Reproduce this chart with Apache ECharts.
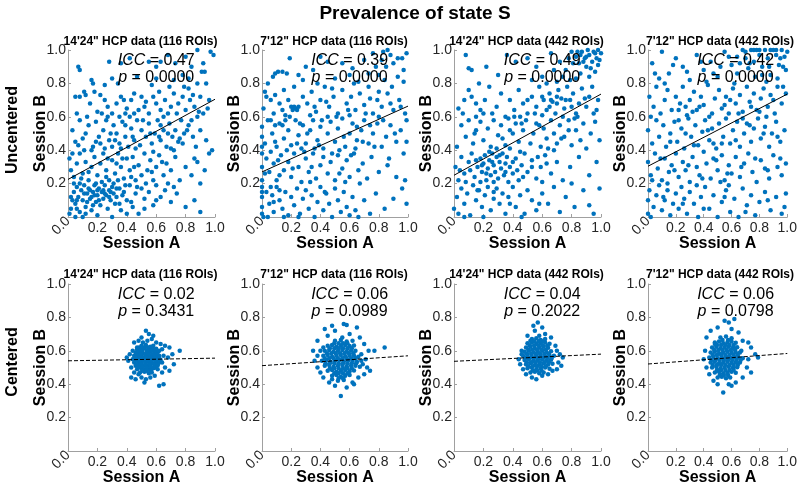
<!DOCTYPE html>
<html>
<head>
<meta charset="utf-8">
<script src="https://cdn.jsdelivr.net/npm/echarts@6/dist/echarts.min.js"></script>
<style>
  html, body { margin: 0; padding: 0; background: #fff; }
  #chart { width: 800px; height: 487px; }
</style>
</head>
<body>
<div id="chart"></div>
<script>
// panel titles, stats
var panelTitles = ["14'24\" HCP data (116 ROIs)", "7'12\" HCP data (116 ROIs)", "14'24\" HCP data (442 ROIs)", "7'12\" HCP data (442 ROIs)"];
var iccTop = ["0.47", "0.39", "0.49", "0.42"];
var pTop = ["0.0000", "0.0000", "0.0000", "0.0000"];
var iccBottom = ["0.02", "0.06", "0.04", "0.06"];
var pBottom = ["0.3431", "0.0989", "0.2022", "0.0798"];

// fitted line values at x=0 and x=1
var fitTop = [[0.225, 0.705], [0.27, 0.664], [0.25, 0.736], [0.304, 0.736]];
var fitBottom = [[0.54, 0.556], [0.511, 0.57], [0.537, 0.58], [0.521, 0.584]];

// uncentered, 14'24" 116 ROIs
var ptsU1 = [
  [0.07,0.9],[0.08,0.88],[0.28,0.93],[0.36,0.92],[0.42,0.95],[0.55,0.93],[0.6,0.9],[0.68,0.97],[0.73,0.92],[0.8,0.96],[0.88,1.0],[0.97,0.99],[0.84,0.9],[0.91,0.87],[0.93,0.87],[0.78,0.85],[0.16,0.82],[0.17,0.8],[0.3,0.83],[0.34,0.8],[0.47,0.84],[0.6,0.83],[0.72,0.82],[0.82,0.83],[0.88,0.8],[0.94,0.8],[0.25,0.79],
  [0.05,0.72],[0.08,0.72],[0.12,0.73],[0.11,0.75],[0.18,0.75],[0.22,0.73],[0.25,0.7],[0.15,0.68],[0.06,0.62],[0.13,0.6],[0.2,0.63],[0.23,0.62],[0.27,0.66],[0.3,0.62],[0.33,0.68],[0.36,0.72],[0.38,0.7],[0.4,0.65],[0.43,0.7],[0.45,0.62],[0.5,0.72],[0.52,0.66],[0.55,0.62],[0.58,0.72],[0.6,0.68],[0.63,0.64],[0.66,0.7],[0.68,0.62],[0.7,0.66],[0.72,0.74],[0.75,0.68],[0.78,0.72],[0.8,0.64],[0.83,0.7],[0.86,0.66],[0.9,0.72],[0.92,0.62],[0.96,0.7],[0.35,0.6],[0.42,0.6],[0.48,0.64],[0.62,0.75],[0.82,0.77],[0.88,0.6],
  [0.03,0.52],[0.05,0.45],[0.08,0.58],[0.1,0.47],[0.12,0.5],[0.14,0.55],[0.17,0.42],[0.19,0.57],[0.22,0.44],[0.24,0.52],[0.26,0.58],[0.28,0.46],[0.3,0.42],[0.31,0.55],[0.33,0.5],[0.35,0.44],[0.37,0.57],[0.39,0.48],[0.41,0.42],[0.43,0.53],[0.45,0.46],[0.47,0.58],[0.49,0.43],[0.5,0.52],[0.53,0.48],[0.55,0.56],[0.57,0.44],[0.59,0.5],[0.61,0.58],[0.63,0.46],[0.65,0.52],[0.67,0.42],[0.69,0.56],[0.71,0.48],[0.73,0.52],[0.75,0.45],[0.77,0.58],[0.79,0.5],[0.82,0.55],[0.85,0.48],[0.87,0.42],[0.9,0.52],[0.94,0.46],[0.98,0.4],[0.36,0.41],[0.46,0.41],[0.21,0.48],[0.16,0.4],[0.29,0.5],[0.63,0.55],[0.7,0.41],[0.78,0.44],
  [0.01,0.35],[0.02,0.28],[0.04,0.24],[0.06,0.32],[0.08,0.38],[0.1,0.26],[0.12,0.33],[0.14,0.22],[0.16,0.3],[0.18,0.36],[0.2,0.25],[0.22,0.32],[0.24,0.38],[0.26,0.28],[0.28,0.22],[0.3,0.34],[0.32,0.26],[0.34,0.38],[0.36,0.3],[0.38,0.23],[0.4,0.35],[0.42,0.28],[0.44,0.36],[0.46,0.22],[0.48,0.31],[0.5,0.25],[0.52,0.38],[0.54,0.28],[0.56,0.34],[0.58,0.22],[0.6,0.3],[0.62,0.37],[0.65,0.25],[0.67,0.32],[0.7,0.28],[0.73,0.36],[0.76,0.22],[0.8,0.3],[0.84,0.25],[0.88,0.33],[0.93,0.28],[0.96,0.38],[0.27,0.35],[0.33,0.32],[0.43,0.24],[0.58,0.39],[0.68,0.2],
  [0.01,0.02],[0.02,0.05],[0.03,0.1],[0.04,0.15],[0.05,0.08],[0.06,0.18],[0.07,0.12],[0.08,0.03],[0.09,0.16],[0.1,0.1],[0.11,0.19],[0.12,0.06],[0.13,0.14],[0.14,0.17],[0.15,0.11],[0.16,0.04],[0.17,0.15],[0.18,0.19],[0.19,0.09],[0.2,0.13],[0.21,0.17],[0.22,0.07],[0.23,0.15],[0.24,0.11],[0.25,0.19],[0.26,0.13],[0.27,0.05],[0.28,0.16],[0.29,0.1],[0.3,0.18],[0.31,0.14],[0.32,0.08],[0.33,0.12],[0.35,0.17],[0.36,0.04],[0.38,0.15],[0.4,0.1],[0.42,0.19],[0.44,0.06],[0.46,0.14],[0.48,0.02],[0.5,0.17],[0.52,0.11],[0.55,0.15],[0.58,0.07],[0.6,0.19],[0.63,0.12],[0.66,0.16],[0.7,0.09],[0.74,0.14],[0.8,0.06],[0.86,0.1],[0.9,0.03],[0.08,0.2],[0.13,0.09],[0.18,0.13],[0.21,0.1],[0.15,0.16],[0.24,0.16],[0.28,0.12],[0.05,0.0],[0.1,0.0],[0.2,0.01],[0.3,0.0],[0.12,0.02],[0.02,0.12],[0.06,0.05],[0.17,0.07],[0.35,0.08],[0.4,0.02],
  [0.04,0.2],[0.09,0.23],[0.14,0.27],[0.19,0.2],[0.23,0.21],[0.26,0.24],[0.31,0.2],[0.34,0.22],[0.39,0.19],[0.11,0.14],[0.16,0.12],[0.2,0.16],[0.25,0.14],[0.29,0.15],[0.33,0.17],[0.37,0.13],[0.06,0.1],[0.43,0.09],[0.47,0.18],[0.53,0.2],[0.57,0.27],[0.64,0.33],[0.72,0.4],[0.76,0.47],[0.81,0.52],[0.84,0.58],[0.89,0.63],[0.95,0.65],[0.68,0.5],[0.62,0.48],[0.56,0.5],[0.51,0.58],[0.44,0.48],[0.39,0.55],[0.32,0.46],[0.25,0.41],[0.19,0.45],[0.11,0.4],[0.07,0.43],[0.03,0.38],[0.27,0.6],[0.39,0.62],[0.53,0.69],[0.65,0.6],[0.74,0.62],[0.85,0.73],[0.69,0.78],[0.45,0.74],[0.57,0.79],[0.92,0.92],[0.63,0.93],[0.79,0.78],[0.99,0.97],[0.86,0.35],[0.9,0.2],[0.6,0.1],[0.72,0.18],[0.52,0.05],[0.45,0.3],[0.37,0.35]
];

// uncentered, 7'12" 116 ROIs
var ptsU2 = [
  [0.19,0.95],[0.075,0.84],[0.09,0.86],[0.11,0.87],[0.14,0.87],[0.17,0.86],[0.3,0.9],[0.35,0.88],[0.4,0.96],[0.45,0.93],[0.55,0.92],[0.62,0.89],[0.7,0.94],[0.78,0.9],[0.83,0.99],[0.86,1.0],[0.88,0.97],[0.9,0.92],[0.96,0.95],[0.99,0.98],[0.8,0.85],[0.84,0.82],[0.93,0.84],[0.97,0.81],[0.28,0.82],[0.5,0.83],[0.66,0.81],[0.73,0.86],[0.04,0.8],[0.25,0.85],
  [0.02,0.75],[0.03,0.72],[0.06,0.7],[0.09,0.73],[0.12,0.68],[0.15,0.76],[0.18,0.7],[0.2,0.66],[0.21,0.64],[0.22,0.66],[0.23,0.65],[0.24,0.64],[0.25,0.66],[0.28,0.72],[0.31,0.68],[0.34,0.75],[0.37,0.63],[0.4,0.7],[0.43,0.78],[0.46,0.66],[0.49,0.72],[0.52,0.62],[0.55,0.76],[0.58,0.68],[0.61,0.72],[0.64,0.64],[0.67,0.74],[0.7,0.67],[0.73,0.78],[0.76,0.62],[0.79,0.7],[0.82,0.66],[0.86,0.74],[0.9,0.64],[0.94,0.7],[0.98,0.62],[0.08,0.62],[0.16,0.61],[0.33,0.61],[0.45,0.6],[0.6,0.61],[0.74,0.71],[0.88,0.68],[0.14,0.64],[0.48,0.77],
  [0.0,0.54],[0.0,0.48],[0.02,0.44],[0.04,0.58],[0.07,0.5],[0.1,0.42],[0.12,0.56],[0.15,0.47],[0.18,0.52],[0.2,0.43],[0.23,0.58],[0.25,0.49],[0.28,0.55],[0.3,0.44],[0.33,0.52],[0.35,0.58],[0.38,0.46],[0.4,0.54],[0.42,0.41],[0.45,0.5],[0.47,0.57],[0.5,0.45],[0.52,0.53],[0.55,0.59],[0.57,0.42],[0.6,0.5],[0.62,0.56],[0.65,0.46],[0.68,0.52],[0.7,0.58],[0.73,0.44],[0.76,0.5],[0.79,0.56],[0.82,0.42],[0.85,0.48],[0.88,0.55],[0.92,0.45],[0.95,0.52],[0.99,0.58],[0.36,0.41],[0.53,0.4],[0.64,0.41],[0.8,0.6],[0.27,0.41],[0.09,0.55],[0.16,0.58],
  [0.0,0.38],[0.0,0.3],[0.0,0.22],[0.03,0.35],[0.05,0.27],[0.08,0.32],[0.1,0.22],[0.13,0.37],[0.15,0.28],[0.18,0.33],[0.2,0.24],[0.22,0.38],[0.25,0.3],[0.27,0.21],[0.3,0.35],[0.32,0.27],[0.35,0.38],[0.37,0.23],[0.4,0.31],[0.42,0.36],[0.45,0.26],[0.47,0.33],[0.5,0.22],[0.52,0.37],[0.55,0.29],[0.58,0.34],[0.6,0.24],[0.63,0.38],[0.66,0.28],[0.69,0.32],[0.72,0.23],[0.75,0.36],[0.8,0.27],[0.86,0.31],[0.92,0.24],[0.97,0.38],[0.98,0.22],[0.12,0.25],[0.34,0.3],[0.57,0.21],[0.06,0.39],
  [0.0,0.18],[0.0,0.12],[0.0,0.06],[0.0,0.02],[0.01,0.0],[0.04,0.0],[0.03,0.15],[0.05,0.08],[0.07,0.13],[0.08,0.03],[0.1,0.18],[0.12,0.1],[0.14,0.05],[0.16,0.15],[0.18,0.01],[0.2,0.12],[0.22,0.07],[0.24,0.17],[0.26,0.02],[0.28,0.11],[0.3,0.16],[0.32,0.05],[0.34,0.13],[0.36,0.0],[0.38,0.09],[0.4,0.18],[0.42,0.04],[0.44,0.14],[0.46,0.08],[0.48,0.0],[0.5,0.17],[0.52,0.1],[0.54,0.03],[0.56,0.15],[0.58,0.06],[0.6,0.01],[0.62,0.12],[0.64,0.04],[0.66,0.0],[0.7,0.1],[0.74,0.02],[0.78,0.14],[0.84,0.05],[0.9,0.11],[0.96,0.17],[0.99,0.08],[0.08,0.09],[0.15,0.0],[0.25,0.0],[0.12,0.16],
  [0.01,0.65],[0.0,0.42],[0.0,0.15],[0.02,0.26],[0.06,0.18],[0.09,0.45],[0.11,0.34],[0.14,0.55],[0.17,0.4],[0.19,0.6],[0.21,0.29],[0.24,0.44],[0.26,0.56],[0.29,0.39],[0.31,0.5],[0.33,0.21],[0.36,0.66],[0.39,0.43],[0.41,0.58],[0.43,0.15],[0.44,0.69],[0.48,0.38],[0.51,0.6],[0.53,0.26],[0.56,0.48],[0.59,0.64],[0.61,0.37],[0.63,0.8],[0.65,0.54],[0.67,0.2],[0.69,0.45],[0.71,0.62],[0.74,0.55],[0.77,0.42],[0.8,0.75],[0.83,0.58],[0.85,0.9],[0.87,0.35],[0.89,0.78],[0.91,0.5],[0.93,0.95],[0.95,0.66],[0.97,0.88],[0.99,0.45],[0.82,0.94],[0.76,0.98],[0.6,0.85],[0.38,0.8],[0.22,0.78],[0.06,0.58]
];

// uncentered, 14'24" 442 ROIs
var ptsU3 = [
  [0.08,0.97],[0.1,0.89],[0.12,0.88],[0.17,0.8],[0.22,0.9],[0.3,0.85],[0.36,0.97],[0.42,0.93],[0.5,0.95],[0.56,0.9],[0.6,0.84],[0.66,0.98],[0.72,0.93],[0.76,0.88],[0.8,0.99],[0.83,0.96],[0.85,0.92],[0.87,0.99],[0.89,0.95],[0.9,0.9],[0.92,0.97],[0.94,0.93],[0.95,0.99],[0.97,0.95],[0.98,0.91],[1.0,0.98],[0.86,0.86],[0.92,0.84],[0.96,0.87],[0.79,0.82],[0.7,0.81],[0.53,0.82],[0.83,0.83],[0.99,0.94],
  [0.03,0.65],[0.06,0.62],[0.1,0.76],[0.12,0.72],[0.15,0.68],[0.18,0.64],[0.21,0.7],[0.24,0.78],[0.26,0.62],[0.29,0.66],[0.32,0.74],[0.35,0.6],[0.38,0.7],[0.41,0.64],[0.44,0.76],[0.47,0.68],[0.5,0.62],[0.53,0.72],[0.56,0.66],[0.58,0.78],[0.61,0.7],[0.63,0.64],[0.65,0.74],[0.67,0.69],[0.69,0.62],[0.71,0.76],[0.73,0.71],[0.75,0.65],[0.77,0.78],[0.79,0.7],[0.81,0.74],[0.83,0.62],[0.85,0.68],[0.87,0.77],[0.9,0.66],[0.92,0.72],[0.95,0.62],[0.98,0.7],[0.6,0.61],[0.7,0.68],[0.74,0.6],[0.66,0.7],[0.8,0.66],[0.45,0.6],[0.15,0.6],
  [0.02,0.42],[0.05,0.55],[0.08,0.48],[0.1,0.58],[0.13,0.44],[0.15,0.52],[0.18,0.57],[0.2,0.46],[0.23,0.53],[0.25,0.42],[0.27,0.58],[0.3,0.49],[0.32,0.55],[0.35,0.43],[0.37,0.59],[0.4,0.5],[0.42,0.56],[0.44,0.45],[0.47,0.52],[0.49,0.58],[0.52,0.44],[0.54,0.5],[0.56,0.56],[0.59,0.42],[0.61,0.53],[0.63,0.47],[0.66,0.58],[0.68,0.5],[0.7,0.44],[0.72,0.55],[0.75,0.48],[0.78,0.58],[0.8,0.43],[0.83,0.52],[0.86,0.46],[0.88,0.56],[0.9,0.41],[0.93,0.5],[0.96,0.57],[0.99,0.46],[0.38,0.41],[0.58,0.55],[0.82,0.59],[0.64,0.41],
  [0.01,0.3],[0.03,0.22],[0.05,0.36],[0.07,0.26],[0.1,0.33],[0.12,0.38],[0.14,0.24],[0.16,0.3],[0.18,0.35],[0.19,0.27],[0.2,0.32],[0.21,0.37],[0.22,0.22],[0.23,0.29],[0.24,0.34],[0.25,0.25],[0.26,0.38],[0.27,0.31],[0.28,0.27],[0.29,0.36],[0.3,0.23],[0.31,0.33],[0.32,0.29],[0.33,0.38],[0.34,0.25],[0.35,0.32],[0.36,0.36],[0.37,0.21],[0.38,0.3],[0.4,0.26],[0.42,0.35],[0.44,0.22],[0.46,0.31],[0.48,0.38],[0.5,0.27],[0.53,0.34],[0.56,0.23],[0.59,0.3],[0.62,0.37],[0.66,0.26],[0.7,0.33],[0.74,0.22],[0.79,0.3],[0.85,0.36],[0.92,0.25],[0.97,0.33],[0.18,0.21],[0.27,0.21],[0.45,0.39],[0.6,0.21],
  [0.0,0.05],[0.02,0.12],[0.03,0.02],[0.05,0.17],[0.07,0.08],[0.09,0.14],[0.11,0.01],[0.13,0.19],[0.15,0.1],[0.17,0.16],[0.19,0.06],[0.21,0.13],[0.23,0.18],[0.25,0.04],[0.27,0.11],[0.29,0.17],[0.31,0.08],[0.33,0.14],[0.35,0.02],[0.37,0.12],[0.4,0.18],[0.42,0.06],[0.45,0.13],[0.48,0.02],[0.5,0.16],[0.53,0.1],[0.56,0.04],[0.6,0.14],[0.64,0.08],[0.68,0.18],[0.72,0.03],[0.76,0.12],[0.82,0.06],[0.88,0.16],[0.92,0.07],[0.95,0.02],[0.99,0.17],[0.07,0.0],[0.2,0.0],[0.46,0.0],
  [0.84,0.99],[0.88,0.93],[0.91,1.0],[0.93,0.89],[0.96,0.98],[0.98,1.0],[0.9,0.96],[0.86,0.97],[0.81,0.92],[0.78,0.95],[0.74,0.84],[0.68,0.88],[0.63,0.8],[0.7,0.72],[0.76,0.7],[0.65,0.66],[0.6,0.72],[0.55,0.62],[0.5,0.7],[0.46,0.56],[0.41,0.6],[0.38,0.52],[0.33,0.47],[0.29,0.41],[0.24,0.39],[0.19,0.31],[0.15,0.34],[0.11,0.28],[0.08,0.21],[0.04,0.28],[0.22,0.26],[0.26,0.33],[0.31,0.37],[0.35,0.27],[0.4,0.33],[0.43,0.28],[0.47,0.24],[0.53,0.3],[0.57,0.36],[0.63,0.32],[0.68,0.4],[0.73,0.47],[0.78,0.52],[0.84,0.6],[0.89,0.71],[0.94,0.78],[0.97,0.64],[0.16,0.16],[0.27,0.15],[0.38,0.08],[0.58,0.08],[0.8,0.2],[0.14,0.5],[0.2,0.62],[0.07,0.7]
];

// uncentered, 7'12" 442 ROIs
var ptsU4 = [
  [0.03,0.92],[0.1,0.99],[0.15,0.86],[0.2,0.95],[0.25,0.9],[0.3,0.82],[0.35,0.97],[0.4,0.88],[0.45,0.93],[0.5,0.84],[0.55,0.99],[0.6,0.91],[0.64,0.86],[0.68,1.0],[0.7,0.95],[0.72,0.89],[0.74,1.0],[0.76,0.93],[0.78,1.0],[0.8,0.97],[0.82,0.9],[0.84,1.0],[0.86,0.95],[0.88,0.85],[0.9,1.0],[0.92,0.97],[0.94,0.91],[0.96,1.0],[0.98,0.96],[1.0,0.99],[0.99,0.88],[0.93,0.83],[0.85,0.81],[0.77,0.84],[0.62,0.8],[0.42,0.81],[0.08,0.83],[0.58,0.96],[0.66,0.92],
  [0.01,0.72],[0.04,0.66],[0.06,0.78],[0.09,0.62],[0.12,0.7],[0.14,0.76],[0.17,0.64],[0.2,0.72],[0.23,0.68],[0.25,0.78],[0.28,0.61],[0.3,0.7],[0.33,0.75],[0.35,0.64],[0.38,0.72],[0.4,0.67],[0.43,0.79],[0.46,0.62],[0.48,0.71],[0.51,0.76],[0.53,0.65],[0.56,0.72],[0.58,0.62],[0.61,0.77],[0.63,0.68],[0.66,0.73],[0.68,0.63],[0.71,0.78],[0.73,0.69],[0.76,0.74],[0.78,0.64],[0.81,0.71],[0.83,0.77],[0.86,0.66],[0.88,0.73],[0.91,0.62],[0.93,0.78],[0.96,0.68],[0.99,0.74],[0.32,0.63],[0.27,0.66],[0.59,0.7],[0.85,0.6],[0.02,0.6],
  [0.0,0.52],[0.03,0.44],[0.06,0.58],[0.08,0.48],[0.11,0.55],[0.13,0.42],[0.16,0.5],[0.19,0.57],[0.21,0.45],[0.24,0.53],[0.26,0.41],[0.29,0.59],[0.31,0.48],[0.34,0.55],[0.36,0.43],[0.39,0.51],[0.41,0.58],[0.44,0.46],[0.46,0.53],[0.49,0.41],[0.51,0.56],[0.54,0.48],[0.56,0.59],[0.59,0.44],[0.61,0.52],[0.64,0.57],[0.66,0.42],[0.69,0.5],[0.71,0.56],[0.74,0.45],[0.76,0.53],[0.79,0.59],[0.81,0.47],[0.84,0.54],[0.87,0.42],[0.89,0.5],[0.92,0.57],[0.95,0.45],[0.98,0.52],[0.22,0.58],[0.47,0.44],[0.68,0.59],
  [0.0,0.33],[0.02,0.25],[0.05,0.38],[0.07,0.29],[0.1,0.22],[0.12,0.35],[0.15,0.27],[0.17,0.31],[0.2,0.38],[0.22,0.24],[0.25,0.33],[0.27,0.28],[0.3,0.21],[0.32,0.36],[0.35,0.3],[0.37,0.25],[0.4,0.39],[0.42,0.32],[0.45,0.23],[0.47,0.35],[0.5,0.28],[0.53,0.37],[0.55,0.22],[0.58,0.31],[0.6,0.26],[0.63,0.36],[0.66,0.24],[0.69,0.32],[0.72,0.38],[0.75,0.27],[0.78,0.21],[0.81,0.34],[0.84,0.29],[0.87,0.23],[0.9,0.37],[0.93,0.3],[0.96,0.25],[0.99,0.32],[0.14,0.2],[0.52,0.21],
  [0.0,0.02],[0.0,0.1],[0.01,0.16],[0.02,0.0],[0.04,0.06],[0.06,0.13],[0.08,0.19],[0.1,0.04],[0.12,0.1],[0.14,0.16],[0.16,0.01],[0.18,0.08],[0.2,0.14],[0.22,0.05],[0.24,0.18],[0.26,0.11],[0.28,0.02],[0.3,0.15],[0.33,0.08],[0.36,0.0],[0.38,0.12],[0.41,0.18],[0.44,0.05],[0.47,0.13],[0.5,0.0],[0.53,0.09],[0.56,0.16],[0.59,0.03],[0.62,0.11],[0.65,0.0],[0.68,0.17],[0.71,0.07],[0.74,0.13],[0.77,0.01],[0.8,0.09],[0.84,0.15],[0.88,0.04],[0.92,0.12],[0.96,0.02],[0.99,0.14],[0.35,0.19],[0.58,0.19],
  [0.7,0.99],[0.76,1.0],[0.8,1.0],[0.88,1.0],[0.92,1.0],[0.95,0.95],[0.97,0.9],[0.87,0.9],[0.82,0.85],[0.73,0.92],[0.64,0.96],[0.52,0.9],[0.47,0.86],[0.38,0.93],[0.28,0.87],[0.18,0.91],[0.05,0.86],[0.12,0.8],[0.22,0.64],[0.37,0.66],[0.44,0.6],[0.55,0.67],[0.65,0.62],[0.74,0.66],[0.8,0.63],[0.9,0.7],[0.97,0.78],[0.16,0.45],[0.27,0.5],[0.33,0.43],[0.43,0.52],[0.53,0.44],[0.63,0.46],[0.73,0.55],[0.83,0.5],[0.93,0.48],[0.09,0.35],[0.19,0.28],[0.29,0.31],[0.39,0.23],[0.49,0.34],[0.57,0.26],[0.67,0.3],[0.77,0.35],[0.86,0.28],[0.95,0.35],[0.03,0.22],[0.11,0.12],[0.25,0.08],[0.4,0.05],[0.55,0.12],[0.7,0.03],[0.86,0.1],[0.98,0.06]
];

// centered, 14'24" 116 ROIs
var ptsC1 = [
  [0.5,0.63],[0.53,0.635],[0.56,0.625],
  [0.47,0.61],[0.5,0.605],[0.52,0.615],[0.55,0.61],[0.58,0.605],[0.6,0.612],
  [0.46,0.59],[0.49,0.595],[0.51,0.585],[0.54,0.59],[0.56,0.595],[0.59,0.588],[0.61,0.592],
  [0.45,0.57],[0.48,0.575],[0.5,0.565],[0.53,0.57],[0.55,0.575],[0.57,0.568],[0.6,0.572],[0.62,0.57],
  [0.44,0.55],[0.47,0.555],[0.49,0.545],[0.52,0.55],[0.54,0.555],[0.56,0.548],[0.58,0.552],[0.61,0.55],[0.63,0.545],
  [0.45,0.53],[0.48,0.535],[0.5,0.525],[0.53,0.53],[0.55,0.535],[0.57,0.528],[0.6,0.532],[0.62,0.53],
  [0.46,0.51],[0.49,0.515],[0.51,0.505],[0.54,0.51],[0.56,0.515],[0.59,0.508],[0.61,0.512],
  [0.47,0.49],[0.5,0.495],[0.52,0.485],[0.55,0.49],[0.58,0.495],
  [0.49,0.47],[0.52,0.475],[0.55,0.465],[0.57,0.47],
  [0.485,0.62],[0.515,0.62],[0.545,0.62],[0.575,0.62],
  [0.475,0.6],[0.505,0.6],[0.535,0.6],[0.565,0.6],[0.595,0.6],
  [0.465,0.58],[0.495,0.58],[0.525,0.58],[0.545,0.58],[0.575,0.58],[0.605,0.58],
  [0.455,0.56],[0.485,0.56],[0.515,0.56],[0.535,0.56],[0.565,0.56],[0.595,0.56],[0.62,0.56],
  [0.46,0.54],[0.49,0.54],[0.515,0.54],[0.545,0.54],[0.57,0.54],[0.595,0.54],[0.625,0.54],
  [0.47,0.52],[0.495,0.52],[0.525,0.52],[0.555,0.52],[0.585,0.52],[0.61,0.52],
  [0.48,0.5],[0.505,0.5],[0.535,0.5],[0.565,0.5],[0.595,0.5],
  [0.505,0.48],[0.535,0.48],[0.565,0.48],
  [0.53,0.72],[0.55,0.7],[0.5,0.68],[0.57,0.67],[0.48,0.66],[0.6,0.65],[0.63,0.64],[0.66,0.63],[0.69,0.62],[0.76,0.6],[0.71,0.58],[0.68,0.56],[0.72,0.52],[0.66,0.5],[0.69,0.48],[0.64,0.47],[0.42,0.58],[0.41,0.54],[0.43,0.5],[0.45,0.47],[0.43,0.44],[0.46,0.43],[0.5,0.44],[0.53,0.43],[0.52,0.41],[0.56,0.44],[0.62,0.39],[0.65,0.4],[0.59,0.45],[0.47,0.62],[0.44,0.6],[0.65,0.57],[0.64,0.53],[0.51,0.65],[0.58,0.63],[0.62,0.6],[0.54,0.66],[0.61,0.49],[0.48,0.46],[0.4,0.56],[0.45,0.65],[0.58,0.69],[0.64,0.61]
];

// centered, 7'12" 116 ROIs
var ptsC2 = [
  [0.5,0.66],[0.54,0.665],[0.58,0.655],
  [0.45,0.63],[0.48,0.635],[0.51,0.625],[0.54,0.63],[0.57,0.635],[0.6,0.628],[0.63,0.632],
  [0.43,0.6],[0.46,0.605],[0.49,0.595],[0.52,0.6],[0.55,0.605],[0.58,0.598],[0.61,0.602],[0.64,0.6],
  [0.42,0.57],[0.45,0.575],[0.48,0.565],[0.51,0.57],[0.54,0.575],[0.57,0.568],[0.6,0.572],[0.63,0.57],[0.66,0.565],
  [0.41,0.54],[0.44,0.545],[0.47,0.535],[0.5,0.54],[0.53,0.545],[0.56,0.538],[0.59,0.542],[0.62,0.54],[0.65,0.535],[0.68,0.54],
  [0.43,0.51],[0.46,0.515],[0.49,0.505],[0.52,0.51],[0.55,0.515],[0.58,0.508],[0.61,0.512],[0.64,0.51],[0.67,0.505],
  [0.45,0.48],[0.48,0.485],[0.51,0.475],[0.54,0.48],[0.57,0.485],[0.6,0.478],[0.63,0.482],
  [0.48,0.45],[0.51,0.455],[0.54,0.445],[0.57,0.45],[0.6,0.455],
  [0.52,0.42],[0.56,0.425],
  [0.495,0.645],[0.525,0.645],[0.555,0.645],[0.585,0.645],
  [0.465,0.615],[0.495,0.615],[0.525,0.615],[0.555,0.615],[0.585,0.615],[0.615,0.615],
  [0.445,0.585],[0.475,0.585],[0.505,0.585],[0.535,0.585],[0.565,0.585],[0.595,0.585],[0.625,0.585],
  [0.43,0.555],[0.46,0.555],[0.49,0.555],[0.52,0.555],[0.55,0.555],[0.58,0.555],[0.61,0.555],[0.64,0.555],
  [0.435,0.525],[0.465,0.525],[0.495,0.525],[0.525,0.525],[0.555,0.525],[0.585,0.525],[0.615,0.525],[0.645,0.525],
  [0.465,0.495],[0.495,0.495],[0.525,0.495],[0.555,0.495],[0.585,0.495],[0.615,0.495],
  [0.495,0.465],[0.525,0.465],[0.555,0.465],[0.585,0.465],
  [0.525,0.435],[0.555,0.435],
  [0.48,0.75],[0.56,0.76],[0.58,0.755],[0.65,0.74],[0.43,0.73],[0.5,0.72],[0.6,0.7],[0.45,0.69],[0.67,0.68],[0.38,0.66],[0.7,0.64],[0.35,0.6],[0.73,0.6],[0.38,0.57],[0.77,0.6],[0.84,0.62],[0.36,0.54],[0.71,0.55],[0.38,0.5],[0.72,0.5],[0.74,0.48],[0.4,0.47],[0.7,0.46],[0.42,0.44],[0.66,0.44],[0.46,0.41],[0.62,0.41],[0.5,0.39],[0.58,0.38],[0.54,0.33],[0.63,0.4],[0.68,0.58],[0.42,0.62],[0.55,0.68],[0.62,0.66],[0.48,0.43],[0.4,0.6],[0.69,0.52]
];

// centered, 14'24" 442 ROIs
var ptsC3 = [
  [0.53,0.67],[0.56,0.675],[0.59,0.665],[0.62,0.67],
  [0.5,0.645],[0.53,0.65],[0.56,0.64],[0.59,0.645],[0.62,0.65],[0.65,0.642],
  [0.49,0.62],[0.52,0.625],[0.55,0.615],[0.58,0.62],[0.61,0.625],[0.64,0.618],
  [0.48,0.595],[0.51,0.6],[0.54,0.59],[0.57,0.595],[0.6,0.6],[0.63,0.592],[0.66,0.597],
  [0.47,0.57],[0.5,0.575],[0.53,0.565],[0.56,0.57],[0.59,0.575],[0.62,0.568],[0.65,0.572],[0.68,0.57],
  [0.48,0.545],[0.51,0.55],[0.54,0.54],[0.57,0.545],[0.6,0.55],[0.63,0.542],[0.66,0.547],
  [0.49,0.52],[0.52,0.525],[0.55,0.515],[0.58,0.52],[0.61,0.525],[0.64,0.518],[0.67,0.522],
  [0.5,0.495],[0.53,0.5],[0.56,0.49],[0.59,0.495],[0.62,0.5],[0.65,0.492],
  [0.52,0.47],[0.55,0.475],[0.58,0.465],[0.61,0.47],
  [0.545,0.657],[0.575,0.657],[0.605,0.657],
  [0.515,0.632],[0.545,0.632],[0.575,0.632],[0.605,0.632],[0.635,0.632],
  [0.505,0.607],[0.535,0.607],[0.565,0.607],[0.595,0.607],[0.625,0.607],
  [0.495,0.582],[0.525,0.582],[0.555,0.582],[0.585,0.582],[0.615,0.582],[0.645,0.582],
  [0.485,0.557],[0.515,0.557],[0.545,0.557],[0.575,0.557],[0.605,0.557],[0.635,0.557],[0.665,0.557],
  [0.495,0.532],[0.525,0.532],[0.555,0.532],[0.585,0.532],[0.615,0.532],[0.645,0.532],
  [0.505,0.507],[0.535,0.507],[0.565,0.507],[0.595,0.507],[0.625,0.507],
  [0.535,0.482],[0.565,0.482],[0.595,0.482],
  [0.57,0.77],[0.54,0.75],[0.6,0.74],[0.55,0.72],[0.62,0.7],[0.5,0.69],[0.66,0.68],[0.46,0.6],[0.44,0.55],[0.45,0.52],[0.7,0.6],[0.72,0.58],[0.74,0.56],[0.71,0.53],[0.73,0.51],[0.7,0.49],[0.47,0.49],[0.49,0.46],[0.53,0.44],[0.56,0.43],[0.6,0.45],[0.64,0.46],[0.67,0.48],[0.46,0.58],[0.69,0.63],[0.58,0.69],[0.52,0.66]
];

// centered, 7'12" 442 ROIs
var ptsC4 = [
  [0.52,0.68],[0.56,0.685],[0.6,0.675],
  [0.48,0.65],[0.51,0.655],[0.54,0.645],[0.57,0.65],[0.6,0.655],[0.63,0.648],
  [0.46,0.62],[0.49,0.625],[0.52,0.615],[0.55,0.62],[0.58,0.625],[0.61,0.618],[0.64,0.622],
  [0.45,0.59],[0.48,0.595],[0.51,0.585],[0.54,0.59],[0.57,0.595],[0.6,0.588],[0.63,0.592],[0.66,0.59],
  [0.44,0.56],[0.47,0.565],[0.5,0.555],[0.53,0.56],[0.56,0.565],[0.59,0.558],[0.62,0.562],[0.65,0.56],[0.68,0.555],
  [0.45,0.53],[0.48,0.535],[0.51,0.525],[0.54,0.53],[0.57,0.535],[0.6,0.528],[0.63,0.532],[0.66,0.53],
  [0.46,0.5],[0.49,0.505],[0.52,0.495],[0.55,0.5],[0.58,0.505],[0.61,0.498],[0.64,0.502],
  [0.48,0.47],[0.51,0.475],[0.54,0.465],[0.57,0.47],[0.6,0.475],[0.63,0.468],
  [0.5,0.44],[0.53,0.445],[0.56,0.435],[0.59,0.44],
  [0.535,0.665],[0.575,0.665],
  [0.495,0.635],[0.525,0.635],[0.555,0.635],[0.585,0.635],[0.615,0.635],
  [0.475,0.605],[0.505,0.605],[0.535,0.605],[0.565,0.605],[0.595,0.605],[0.625,0.605],
  [0.465,0.575],[0.495,0.575],[0.525,0.575],[0.555,0.575],[0.585,0.575],[0.615,0.575],[0.645,0.575],
  [0.455,0.545],[0.485,0.545],[0.515,0.545],[0.545,0.545],[0.575,0.545],[0.605,0.545],[0.635,0.545],[0.665,0.545],
  [0.465,0.515],[0.495,0.515],[0.525,0.515],[0.555,0.515],[0.585,0.515],[0.615,0.515],[0.645,0.515],
  [0.495,0.485],[0.525,0.485],[0.555,0.485],[0.585,0.485],[0.615,0.485],
  [0.515,0.455],[0.545,0.455],[0.575,0.455],
  [0.55,0.78],[0.58,0.77],[0.62,0.79],[0.5,0.74],[0.6,0.73],[0.45,0.72],[0.65,0.71],[0.42,0.68],[0.68,0.66],[0.72,0.65],[0.74,0.62],[0.41,0.6],[0.77,0.58],[0.79,0.56],[0.4,0.55],[0.72,0.55],[0.42,0.5],[0.71,0.5],[0.74,0.47],[0.44,0.46],[0.68,0.44],[0.47,0.42],[0.63,0.41],[0.5,0.4],[0.58,0.4],[0.54,0.35],[0.6,0.39],[0.48,0.64],[0.67,0.6]
];

var topPts = [ptsU1, ptsU2, ptsU3, ptsU4];
var bottomPts = [ptsC1, ptsC2, ptsC3, ptsC4];

var FONT = "'Liberation Sans', Arial, sans-serif";
var lefts = [68, 262, 454, 648];
var widths = [147, 146, 147, 146];
var tops = [50, 284];
var H = 167;
var axisGray = "#a0a0a0";

var grid = [], xAxis = [], yAxis = [], series = [], graphic = [];

graphic.push({
  type: "text", x: 415, y: 14,
  style: { text: "Prevalence of state S", font: "bold 19px " + FONT, fill: "#000", textAlign: "center", textVerticalAlign: "middle" }
});
graphic.push({
  type: "text", x: 13, y: 130, rotation: Math.PI / 2,
  style: { text: "Uncentered", font: "bold 16px " + FONT, fill: "#000", textAlign: "center", textVerticalAlign: "middle" }
});
graphic.push({
  type: "text", x: 13, y: 362, rotation: Math.PI / 2,
  style: { text: "Centered", font: "bold 16px " + FONT, fill: "#000", textAlign: "center", textVerticalAlign: "middle" }
});

for (var r = 0; r < 2; r++) {
  for (var c = 0; c < 4; c++) {
    var gi = r * 4 + c;
    grid.push({ left: lefts[c], top: tops[r], width: widths[c], height: H });
    xAxis.push({
      gridIndex: gi, type: "value", min: 0, max: 1, interval: 0.2,
      name: "Session A", nameLocation: "middle", nameGap: 19, nameMoveOverlap: false,
      nameTextStyle: { fontFamily: FONT, fontWeight: "bold", fontSize: 16, color: "#000" },
      axisLine: { show: true, onZero: false, lineStyle: { color: axisGray } },
      axisTick: { show: true, inside: true, length: 3, lineStyle: { color: axisGray } },
      splitLine: { show: false },
      axisLabel: {
        fontFamily: FONT, fontSize: 14, color: "#262626", margin: 4,
        formatter: function (v) { return v === 0 ? "" : v.toFixed(1); }
      }
    });
    xAxis.push({
      gridIndex: gi, type: "value", min: 0, max: 1, interval: 0.2, position: "bottom",
      axisLine: { show: false }, axisTick: { show: false }, splitLine: { show: false },
      axisLabel: {
        fontFamily: FONT, fontSize: 14, color: "#262626", rotate: 45, margin: 2,
        formatter: function (v) { return v === 0 ? "0.0" : ""; }
      }
    });
    yAxis.push({
      gridIndex: gi, type: "value", min: 0, max: 1, interval: 0.2,
      name: "Session B", nameLocation: "middle", nameGap: 19, nameMoveOverlap: false,
      nameTextStyle: { fontFamily: FONT, fontWeight: "bold", fontSize: 16, color: "#000" },
      axisLine: { show: true, onZero: false, lineStyle: { color: axisGray } },
      axisTick: { show: true, inside: true, length: 3, lineStyle: { color: axisGray } },
      splitLine: { show: false },
      axisLabel: {
        fontFamily: FONT, fontSize: 14, color: "#262626", margin: 2,
        formatter: function (v) { return v === 0 ? "" : v.toFixed(1); }
      }
    });

    var pts = r === 0 ? topPts[c] : bottomPts[c];
    var fit = r === 0 ? fitTop[c] : fitBottom[c];
    series.push({
      type: "scatter", xAxisIndex: gi * 2, yAxisIndex: gi, data: pts,
      symbolSize: 4.5, clip: false, silent: true,
      itemStyle: { color: "#0072BD", opacity: 1 }, z: 2
    });
    series.push({
      type: "line", xAxisIndex: gi * 2, yAxisIndex: gi,
      data: [[0, fit[0]], [1, fit[1]]], symbol: "none", silent: true,
      lineStyle: { color: "#000", width: 1, type: r === 0 ? "solid" : "dashed" }, z: 3
    });

    var cx = lefts[c] + widths[c] / 2 - 1;
    graphic.push({
      type: "text", x: cx, y: tops[r] - 8 - r,
      style: { text: panelTitles[c], font: "bold 12px " + FONT, fill: "#000", textAlign: "center", textVerticalAlign: "middle" }
    });
    var ix = lefts[c] + widths[c] * 0.6;
    var icc = r === 0 ? iccTop[c] : iccBottom[c];
    var pv = r === 0 ? pTop[c] : pBottom[c];
    graphic.push({
      type: "text", x: ix, y: tops[r] + 11, z: 10,
      style: {
        text: "{i|ICC}{n| = " + icc + "}", textAlign: "center", textVerticalAlign: "middle",
        rich: {
          i: { fontFamily: FONT, fontSize: 16, fontStyle: "italic", fill: "#000" },
          n: { fontFamily: FONT, fontSize: 16, fill: "#000" }
        }
      }
    });
    graphic.push({
      type: "text", x: ix, y: tops[r] + 28, z: 10,
      style: {
        text: "{i|p}{n| = " + pv + "}", textAlign: "center", textVerticalAlign: "middle",
        rich: {
          i: { fontFamily: FONT, fontSize: 16, fontStyle: "italic", fill: "#000" },
          n: { fontFamily: FONT, fontSize: 16, fill: "#000" }
        }
      }
    });
  }
}

var chart = echarts.init(document.getElementById("chart"), null, { renderer: "canvas" });
chart.setOption({
  animation: false,
  backgroundColor: "#fff",
  grid: grid,
  xAxis: xAxis,
  yAxis: yAxis,
  series: series,
  graphic: graphic
});
</script>
</body>
</html>
